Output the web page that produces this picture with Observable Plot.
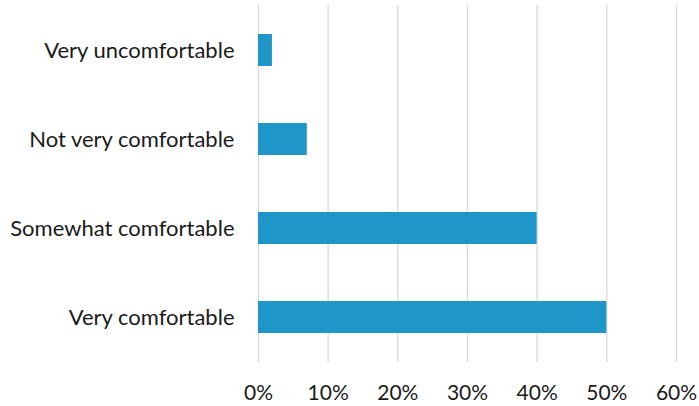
<!DOCTYPE html>
<html>
<head>
<meta charset="utf-8">
<script src="https://cdn.jsdelivr.net/npm/d3@7"></script>
<script src="https://cdn.jsdelivr.net/npm/@observablehq/plot@0.6"></script>
<style>
  html, body { margin: 0; padding: 0; background: #fff; }
  #chart svg { display: block; }
</style>
</head>
<body>
<div id="chart"></div>
<script>
const categories = ["Very uncomfortable", "Not very comfortable", "Somewhat comfortable", "Very comfortable"];
const values = [0.02, 0.07, 0.40, 0.50];
const xTicks = [0, 0.1, 0.2, 0.3, 0.4, 0.5, 0.6];

const data = categories.map((c, i) => ({category: c, value: values[i]}));

const chart = Plot.plot({
  width: 699,
  height: 406,
  marginTop: 5,
  marginBottom: 44,
  marginLeft: 258,
  marginRight: 23,
  style: {fontFamily: "Lato, sans-serif", fontSize: "22px", color: "#1a1a1a", background: "#fff"},
  x: {domain: [0, 0.6], ticks: xTicks, tickFormat: d3.format(".0%"), label: null},
  y: {domain: categories, paddingInner: 0.64, paddingOuter: 0.32, label: null},
  marks: [
    Plot.gridX(xTicks, {stroke: "#d9d9d9", strokeOpacity: 1, strokeWidth: 1.3}),
    Plot.barX(data, {x: "value", y: "category", fill: "#1f95c8"}),
    Plot.axisX(xTicks, {tickSize: 0, tickPadding: 23, tickFormat: d3.format(".0%"), fontSize: 21, label: null}),
    Plot.axisY(categories, {tickSize: 0, tickPadding: 24, fontSize: 22, label: null})
  ]
});
document.getElementById("chart").appendChild(chart);
</script>
</body>
</html>
